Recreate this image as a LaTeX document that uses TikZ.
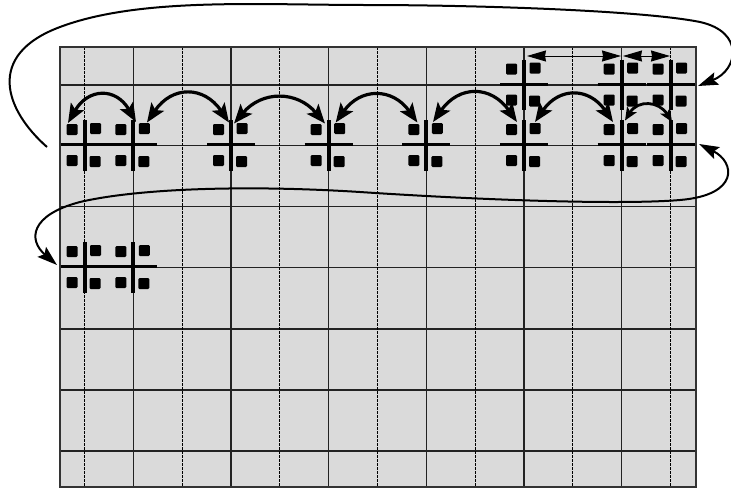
\documentclass[tikz,border=0pt]{standalone}
\usetikzlibrary{arrows.meta}
\definecolor{cellfill}{RGB}{218,218,218}
\definecolor{gridcol}{RGB}{34,34,34}
\definecolor{bordercol}{RGB}{51,51,51}
\tikzset{
  gridsolid/.style={draw=gridcol, line width=1.3pt},
  griddash/.style={draw=black, line width=0.9pt, dash pattern=on 2.5pt off 1.5pt},
  gridborder/.style={draw=bordercol, line width=2.2pt},
  hbar/.style={draw=black, line width=3pt},
  vbar/.style={draw=black, line width=4pt},
  pad/.style={fill=black, rounded corners=1.2pt},
  junction/.pic={
    \fill[pad] (-18,-20.5) rectangle (-7,-9.5);
    \fill[pad] (5.5,-21.5) rectangle (16.5,-10.5);
    \fill[pad] (-18,10.5) rectangle (-7,21.5);
    \fill[pad] (5,11.5) rectangle (16,22.5);
    \draw[hbar] (-24,0) -- (24,0);
    \draw[vbar] (0,-24.5) -- (0,26);
  },
  hop/.style={draw=black, line width=3.2pt,
    {Stealth[length=19pt,width=15pt,inset=4pt]}-{Stealth[length=19pt,width=15pt,inset=4pt]}},
  smallhop/.style={draw=black, line width=2.8pt,
    {Stealth[length=13pt,width=11pt,inset=3pt]}-{Stealth[length=13pt,width=11pt,inset=3pt]}},
  span/.style={draw=black, line width=1pt,
    {Stealth[length=19pt,width=11pt,inset=1pt]}-{Stealth[length=19pt,width=11pt,inset=1pt]}},
  loopline/.style={draw=black, line width=2pt}
}
\begin{document}
\begin{tikzpicture}[x=1pt,y=-1pt]
\useasboundingbox (0,0) rectangle (731,488);
% grid
\fill[cellfill] (60,47) rectangle (696,487);
\foreach \yy in {85,145.5,206.5,267.5,329,390,451}
  \draw[gridsolid] (60,\yy) -- (696,\yy);
\foreach \k in {0,...,5}
  \draw[gridsolid] ({133.3+97.68*\k},47) -- ({133.3+97.68*\k},487);
\foreach \k in {0,...,6}
  \draw[griddash] ({84.5+97.68*\k},47) -- ({84.5+97.68*\k},487);
\draw[gridborder] (60,47) rectangle (696,487);

% junction positions
\coordinate (r1a) at (524,84);
\coordinate (r1b) at (621.7,84);
\coordinate (r1c) at (670.5,84);
\coordinate (r2a) at (84.5,144.5);
\coordinate (r2b) at (133.3,144.5);
\coordinate (r2c) at (231,144.5);
\coordinate (r2d) at (328.7,144.5);
\coordinate (r2e) at (426.4,144.5);
\coordinate (r2f) at (524,144.5);
\coordinate (r2g) at (621.7,144.5);
\coordinate (r2h) at (670.5,144.5);
\coordinate (r4a) at (84.5,266.5);
\coordinate (r4b) at (133.3,266.5);

\foreach \n in {r1a,r1b,r1c,r2a,r2b,r2c,r2d,r2e,r2f,r2g,r2h,r4a,r4b}
  \pic at (\n) {junction};

% top spans
\draw[span] ([shift={(3,-28)}]r1a) -- ([shift={(-0.7,-28)}]r1b);
\draw[span] ([shift={(1.3,-28)}]r1b) -- ([shift={(-0.5,-28)}]r1c);

% hops in row 2
\draw[hop] ([shift={(-16.5,-21.5)}]r2a) .. controls +(20,-35) and +(-20,-35) .. ([shift={(2.7,-22.5)}]r2b);
\draw[hop] ([shift={(13.7,-22)}]r2b) .. controls +(25,-37) and +(-25,-37) .. ([shift={(-2,-22)}]r2c);
\draw[hop] ([shift={(3,-21)}]r2c) .. controls +(28,-33) and +(-28,-33) .. ([shift={(-3.7,-21)}]r2d);
\draw[hop] ([shift={(7,-22)}]r2d) .. controls +(25,-35) and +(-25,-35) .. ([shift={(-9,-22)}]r2e);
\draw[hop] ([shift={(6.6,-22.5)}]r2e) .. controls +(26,-37) and +(-26,-37) .. ([shift={(-7,-22.5)}]r2f);
\draw[hop] ([shift={(11,-22.5)}]r2f) .. controls +(24,-35) and +(-24,-35) .. ([shift={(-8.7,-22.5)}]r2g);
\draw[smallhop] ([shift={(3.3,-24)}]r2g) .. controls +(13,-21) and +(-13,-21) .. ([shift={(1.5,-22.5)}]r2h);

% big loops
\coordinate (loopAstart) at (47,147);
\coordinate (loopAend) at (698,86);
\draw[loopline, -{Stealth[length=20pt,width=13pt,inset=3.5pt]}] (loopAstart)
  .. controls (5,110) and (-15,55) .. (60,27)
  .. controls (140,-3) and (260,5) .. (366,5)
  .. controls (470,5) and (640,10) .. (700,22)
  .. controls (745,32) and (738,70) .. (loopAend);

\coordinate (loopBstart) at (699,144);
\coordinate (loopBend) at (57,265);
\draw[loopline, {Stealth[length=20pt,width=13pt,inset=3.5pt]}-{Stealth[length=20pt,width=13pt,inset=3.5pt]}] (loopBstart)
  .. controls (735,162) and (740,195) .. (680,200)
  .. controls (620,205) and (480,200) .. (360,192)
  .. controls (250,185) and (140,188) .. (80,202)
  .. controls (30,215) and (28,240) .. (loopBend);
\end{tikzpicture}
\end{document}
